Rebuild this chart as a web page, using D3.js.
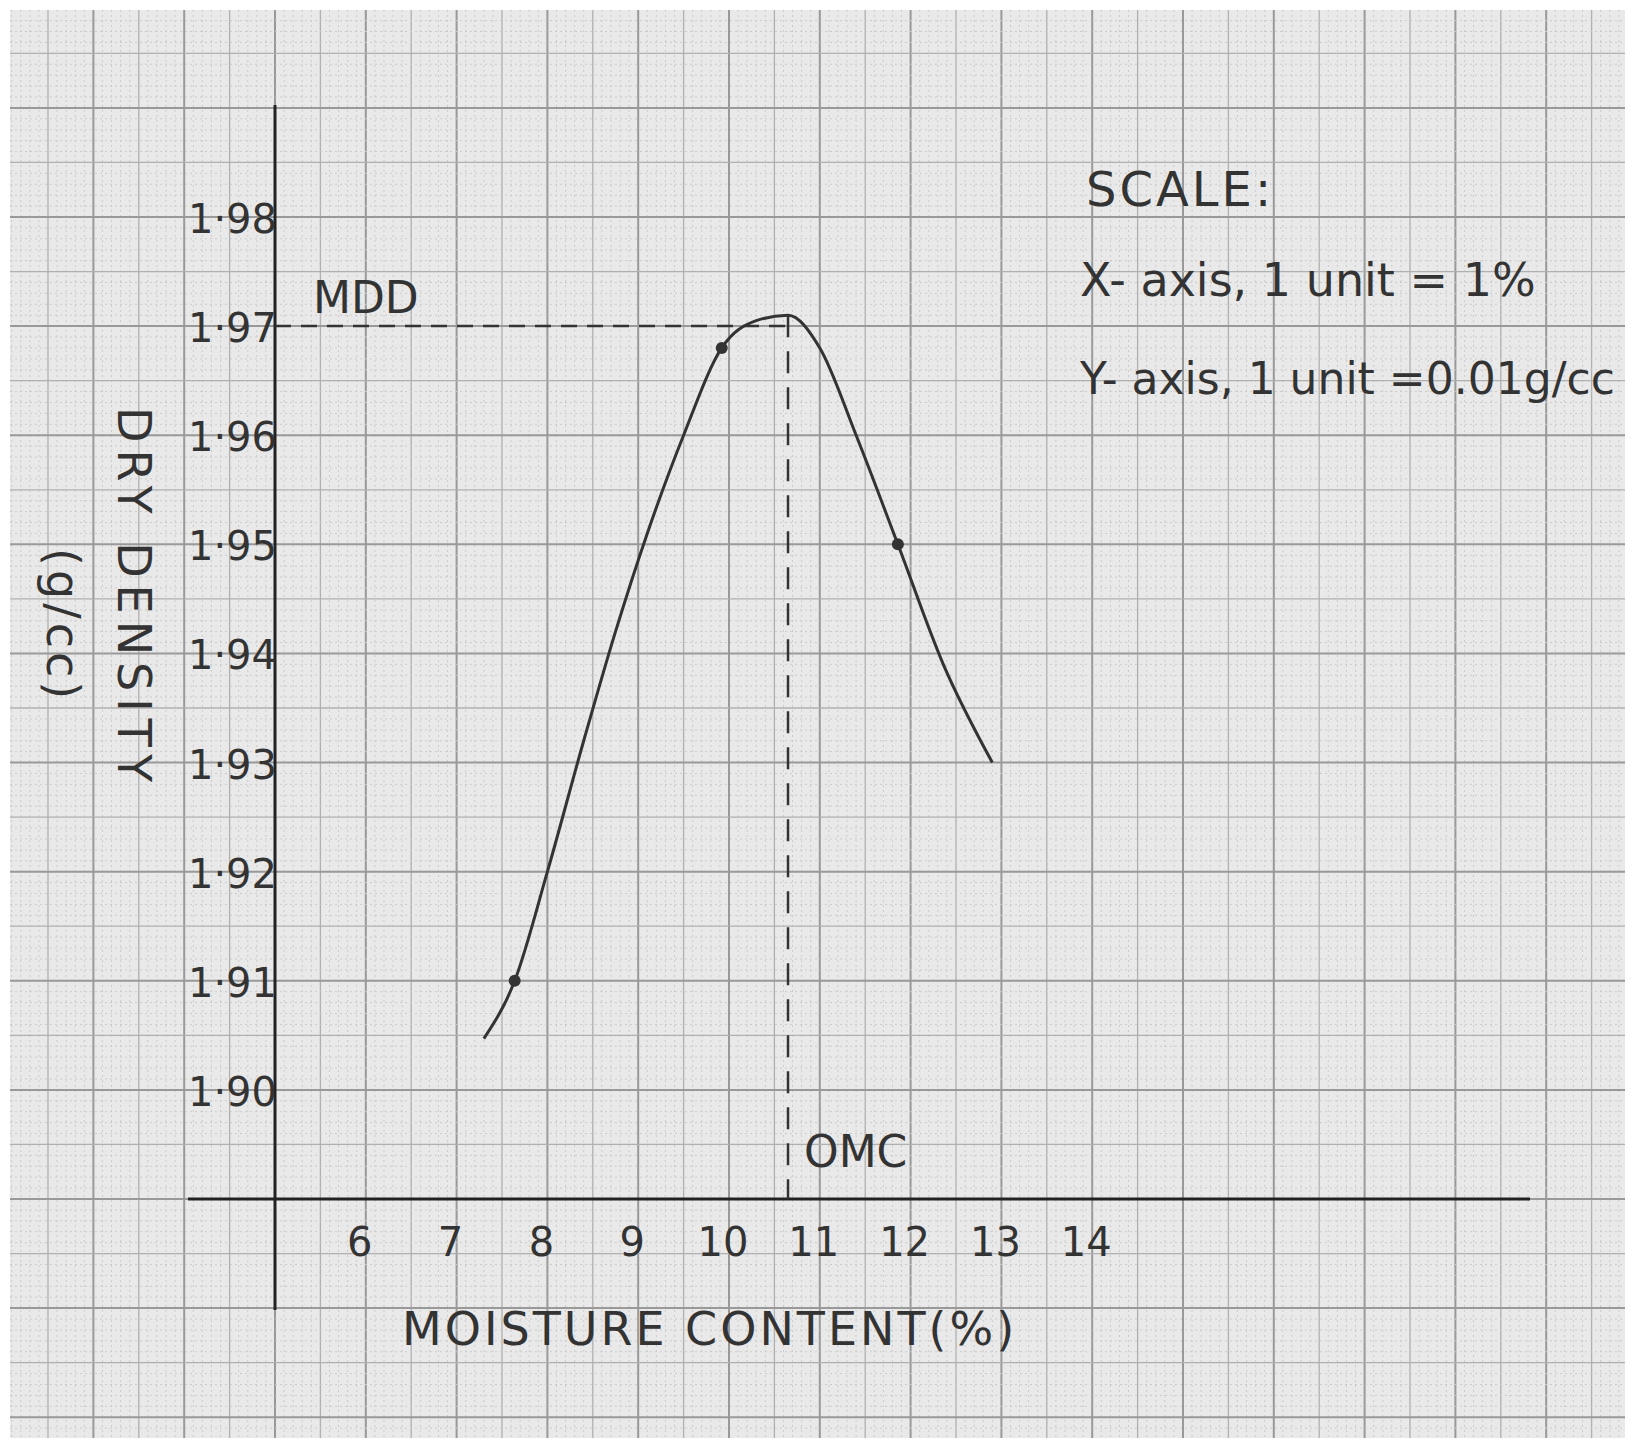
<!DOCTYPE html><html><head><meta charset="utf-8">
<script src="https://d3js.org/d3.v7.min.js"></script>
<style>body{margin:0;background:#fff}svg text{font-family:"DejaVu Sans",sans-serif;fill:#333}</style></head><body>
<script>
const xTicks=[6,7,8,9,10,11,12,13,14];
const yTicks=[1.90,1.91,1.92,1.93,1.94,1.95,1.96,1.97,1.98];
const yTickLabels=["1·90","1·91","1·92","1·93","1·94","1·95","1·96","1·97","1·98"];
const curveX=[7.3,7.64,8.0,8.4,8.75,9.1,9.5,9.92,10.3,10.65,11.0,11.4,11.86,12.36,12.9];
const curveY=[1.9047,1.910,1.920,1.932,1.942,1.951,1.960,1.968,1.9705,1.971,1.968,1.960,1.950,1.939,1.930];
const ptX=[7.64,9.92,11.86];
const ptY=[1.910,1.968,1.950];
const omc=10.65, mdd=1.971;

const W=1637,H=1450;
const svg=d3.select("body").append("svg").attr("width",W).attr("height",H);
const x=d3.scaleLinear().domain([5,15]).range([275,1183]);
const y=d3.scaleLinear().domain([1.89,1.98]).range([1199,217]);
svg.append("rect").attr("x",10).attr("y",10).attr("width",W-22).attr("height",H-22).attr("fill","#e9e9e9");
const g=svg.append("g");
const dx=x(6)-x(5), dy=y(1.89)-y(1.90);
for(let i=-60;i<=180;i++){
  const v=x(5)+i*dx/10; if(v<10||v>W-12) continue;
  const major=i%10===0, half=i%5===0;
  g.append("line").attr("x1",v).attr("x2",v).attr("y1",10).attr("y2",H-12)
   .attr("stroke",major?"#999":half?"#b0b0b0":"#cbcbcb").attr("stroke-width",major?2:half?1.3:1)
   .attr("stroke-dasharray",major||half?null:"2,3");
}
for(let i=-140;i<=140;i++){
  const v=y(1.89)+i*dy/10; if(v<10||v>H-12) continue;
  const major=i%10===0, half=i%5===0;
  g.append("line").attr("y1",v).attr("y2",v).attr("x1",10).attr("x2",W-12)
   .attr("stroke",major?"#999":half?"#b0b0b0":"#cbcbcb").attr("stroke-width",major?2:half?1.3:1)
   .attr("stroke-dasharray",major||half?null:"2,3");
}
svg.append("line").attr("x1",188).attr("x2",1530).attr("y1",y(1.89)).attr("y2",y(1.89)).attr("stroke","#222").attr("stroke-width",3);
svg.append("line").attr("x1",x(5)).attr("x2",x(5)).attr("y1",105).attr("y2",1310).attr("stroke","#222").attr("stroke-width",3);
svg.selectAll(".yt").data(yTicks).join("text").attr("x",x(5)+2).attr("y",d=>y(d)+16)
  .attr("text-anchor","end").attr("font-size",40).text((d,i)=>yTickLabels[i]);
svg.selectAll(".xt").data(xTicks).join("text").attr("x",d=>x(d)-6).attr("y",1256)
  .attr("text-anchor","middle").attr("font-size",40).text(d=>d);
svg.append("line").attr("x1",x(5)).attr("x2",x(omc)).attr("y1",y(1.97)).attr("y2",y(1.97))
  .attr("stroke","#333").attr("stroke-width",2.5).attr("stroke-dasharray","16,10");
svg.append("line").attr("x1",x(omc)).attr("x2",x(omc)).attr("y1",y(mdd)).attr("y2",y(1.89))
  .attr("stroke","#333").attr("stroke-width",2.5).attr("stroke-dasharray","22,14");
const pts=curveX.map((v,i)=>[v,curveY[i]]);
svg.append("path").datum(pts).attr("d",d3.line().x(d=>x(d[0])).y(d=>y(d[1])).curve(d3.curveMonotoneX))
  .attr("fill","none").attr("stroke","#333").attr("stroke-width",3);
svg.selectAll(".pt").data(ptX).join("circle").attr("cx",d=>x(d)).attr("cy",(d,i)=>y(ptY[i])).attr("r",6).attr("fill","#333");
const t=(s,xx,yy,fs,extra)=>{const e=svg.append("text").attr("x",xx).attr("y",yy).attr("font-size",fs).text(s);if(extra)extra(e);return e;};
t("MDD",313,313,44);
t("OMC",804,1167,44);
t("MOISTURE CONTENT(%)",402,1345,46,e=>e.attr("letter-spacing",3));
t("DRY  DENSITY",0,0,46,e=>e.attr("transform","translate(118,407) rotate(90)").attr("letter-spacing",7));
t("(g/cc)",0,0,46,e=>e.attr("transform","translate(47,548) rotate(90)").attr("letter-spacing",4));
t("SCALE:",1086,206,48,e=>e.attr("letter-spacing",3));
t("X- axis,  1 unit = 1%",1080,296,46);
t("Y- axis,  1 unit =0.01g/cc",1080,394,44);
</script></body></html>
